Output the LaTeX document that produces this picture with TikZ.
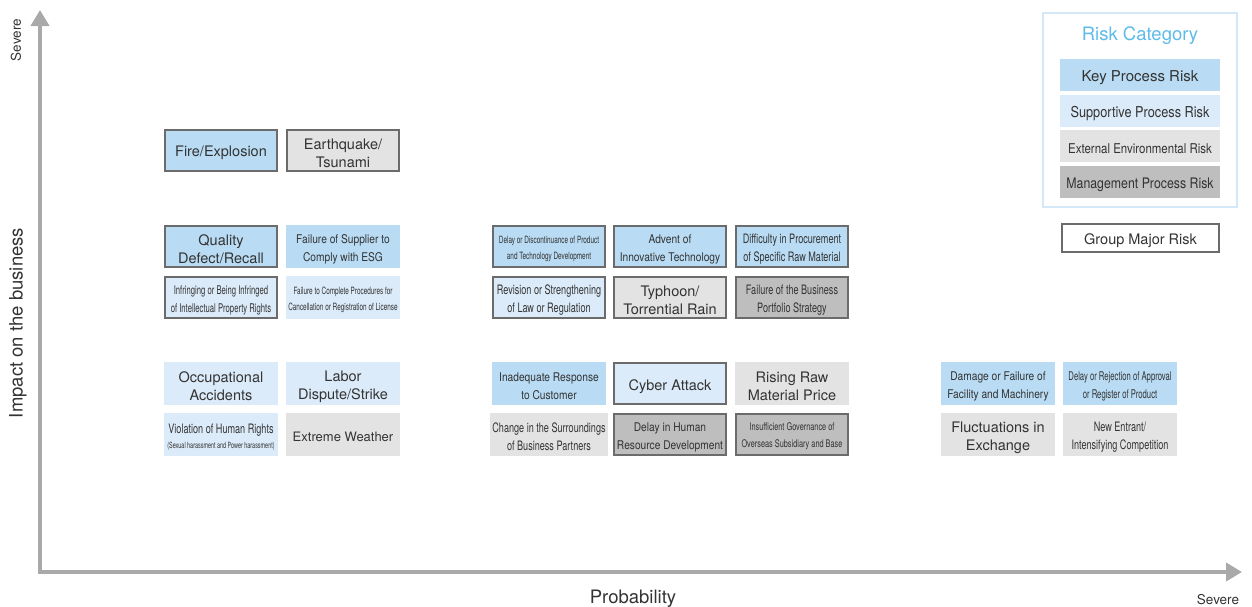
\documentclass[tikz,border=0pt]{standalone}
\usepackage{fontspec}
\setmainfont{TeX Gyre Heros}
\newfontfamily\narrowfont[FakeStretch=0.85]{TeX Gyre Heros}
\newfontfamily\thinfont[FakeStretch=0.7]{TeX Gyre Heros}
\newfontfamily\condfont[FakeStretch=0.64]{TeX Gyre Heros}
\usetikzlibrary{arrows.meta, positioning}
\definecolor{keyblue}{HTML}{B9DCF4}
\definecolor{supblue}{HTML}{DCEBF9}
\definecolor{extgrey}{HTML}{E3E3E3}
\definecolor{mgmtgrey}{HTML}{BEBEBE}
\definecolor{framegrey}{HTML}{6B6B6B}
\definecolor{legendblue}{HTML}{D3E8F8}
\definecolor{titleblue}{HTML}{5DBBEA}
\definecolor{axisgrey}{HTML}{A9A9A9}
\definecolor{darktext}{HTML}{333333}
% strut that sits two-line labels a little low in their box
\newcommand{\lowstrut}{\rule{0pt}{1.15em}}

\begin{document}
\begin{tikzpicture}[
    x=1pt, y=-1pt,
    every node/.style={text=darktext},
    risk/.style={rectangle, line width=2pt, minimum width=112pt,
                 minimum height=41pt, inner sep=1pt, align=center,
                 font=\fontsize{14.5}{18}\selectfont,
                 execute at begin node={\lowstrut}},
    keyrisk/.style={risk, fill=keyblue, draw=keyblue},
    suprisk/.style={risk, fill=supblue, draw=supblue},
    extrisk/.style={risk, fill=extgrey, draw=extgrey},
    mgmtrisk/.style={risk, fill=mgmtgrey, draw=mgmtgrey},
    major/.style={draw=framegrey},
    midtext/.style={font=\narrowfont\fontsize{12}{18}\selectfont},
    narrowtext/.style={font=\thinfont\fontsize{13}{18}\selectfont},
    smalltext/.style={font=\condfont\fontsize{12}{18}\selectfont},
    tinytext/.style={font=\condfont\fontsize{10}{16}\selectfont},
    legendkey/.style={minimum width=158pt, minimum height=30pt},
    axis/.style={axisgrey, line width=4pt,
                 {Triangle[width=18pt,length=16pt]}-{Triangle[width=18pt,length=16pt]}},
    axislabel/.style={font=\fontsize{18.5}{22}\selectfont},
]
\useasboundingbox (0,0) rectangle (1252,606);

% Axes
\coordinate (origin) at (40,572);
\coordinate (ytip) at (40,10);
\coordinate (xtip) at (1242,572);
\draw[axis] (ytip) -- (origin) -- (xtip);

\node[rotate=90, font=\fontsize{13.5}{16}\selectfont] (ysevere) at (16,40) {Severe};
\node[rotate=90, axislabel] (ylabel) at (18,323) {Impact on the business};
\node[axislabel] (xlabel) at (633,599) {Probability};
\node[font=\fontsize{13.5}{16}\selectfont] (xsevere) at (1218,600) {Severe};

% Top row
\node[keyrisk, major] (fire) at (221,150) {Fire/Explosion};
\node[extrisk, major, right=8pt of fire] (quake) {\lowstrut Earthquake/\\Tsunami};

% Left block
\node[keyrisk, major] (quality) at (221,246.5) {\lowstrut Quality\\Defect/Recall};
\node[keyrisk, midtext, right=8pt of quality] (supplier) {\lowstrut Failure of Supplier to\\Comply with ESG};
\node[suprisk, major, smalltext, below=8pt of quality] (ip) {\lowstrut Infringing or Being Infringed\\of Intellectual Property Rights};
\node[suprisk, tinytext, below=8pt of supplier] (license) {\lowstrut Failure to Complete Procedures for\\Cancellation or Registration of License};

\node[suprisk] (accident) at (221,383.5) {\lowstrut Occupational\\Accidents};
\node[suprisk, right=8pt of accident] (labor) {\lowstrut Labor\\Dispute/Strike};
\node[suprisk, narrowtext, below=8pt of accident] (rights) {\lowstrut Violation of Human Rights\\[-3pt]{\condfont\fontsize{8.5}{10}\selectfont (Sexual harassment and Power harassment)}};
\node[extrisk, font=\fontsize{13}{18}\selectfont, below=8pt of labor] (weather) {Extreme Weather};

% Middle block
\node[keyrisk, major, tinytext] (product) at (549,246.5) {\lowstrut Delay or Discontinuance of Product\\and Technology Development};
\node[keyrisk, major, midtext, right=7pt of product] (innovation) {\lowstrut Advent of\\Innovative Technology};
\node[keyrisk, major, narrowtext, right=8pt of innovation] (material) {\lowstrut Difficulty in Procurement\\of Specific Raw Material};
\node[suprisk, major, narrowtext, below=8pt of product] (law) {\lowstrut Revision or Strengthening\\of Law or Regulation};
\node[extrisk, major, below=8pt of innovation] (typhoon) {\lowstrut Typhoon/\\Torrential Rain};
\node[mgmtrisk, major, narrowtext, below=8pt of material] (portfolio) {\lowstrut Failure of the Business\\Portfolio Strategy};

\node[keyrisk, midtext] (customer) at (549,383.5) {\lowstrut Inadequate Response\\to Customer};
\node[suprisk, major, right=7pt of customer] (cyber) {Cyber Attack};
\node[extrisk, right=8pt of cyber] (price) {\lowstrut Rising Raw\\Material Price};
\node[extrisk, narrowtext, below=8pt of customer] (partners) {\lowstrut Change in the Surroundings\\of Business Partners};
\node[mgmtrisk, major, midtext, below=8pt of cyber] (talent) {\lowstrut Delay in Human\\Resource Development};
\node[mgmtrisk, major, font=\thinfont\fontsize{10.5}{17}\selectfont, below=8pt of price] (governance) {\lowstrut Insufficient Governance of\\Overseas Subsidiary and Base};

% Right block
\node[keyrisk, midtext] (facility) at (998,383.5) {\lowstrut Damage or Failure of\\Facility and Machinery};
\node[keyrisk, smalltext, right=8pt of facility] (approval) {\lowstrut Delay or Rejection of Approval\\or Register of Product};
\node[extrisk, below=8pt of facility] (exchange) {\lowstrut Fluctuations in\\Exchange};
\node[extrisk, narrowtext, below=8pt of approval] (competition) {\lowstrut New Entrant/\\Intensifying Competition};

% Legend
\node[draw=legendblue, line width=2pt, minimum width=194pt, minimum height=194pt] (legend) at (1140,110) {};
\node[font=\fontsize{18.5}{22}\selectfont, text=titleblue] (legendtitle) at (1140,36) {Risk Category};
\node[keyrisk, legendkey, font=\fontsize{15}{18}\selectfont] (lkey) at (1140,75) {Key Process Risk};
\node[suprisk, legendkey, font=\narrowfont\fontsize{15}{18}\selectfont, below=3.5pt of lkey] (lsup) {Supportive Process Risk};
\node[extrisk, legendkey, font=\narrowfont\fontsize{13.5}{18}\selectfont, below=3.5pt of lsup] (lext) {External Environmental Risk};
\node[mgmtrisk, legendkey, font=\narrowfont\fontsize{14.5}{18}\selectfont, below=3.5pt of lext] (lmgmt) {Management Process Risk};

\node[risk, draw=framegrey, fill=white, minimum width=157pt, minimum height=28pt] (majorkey) at (1140.5,238) {Group Major Risk};

\end{tikzpicture}
\end{document}
